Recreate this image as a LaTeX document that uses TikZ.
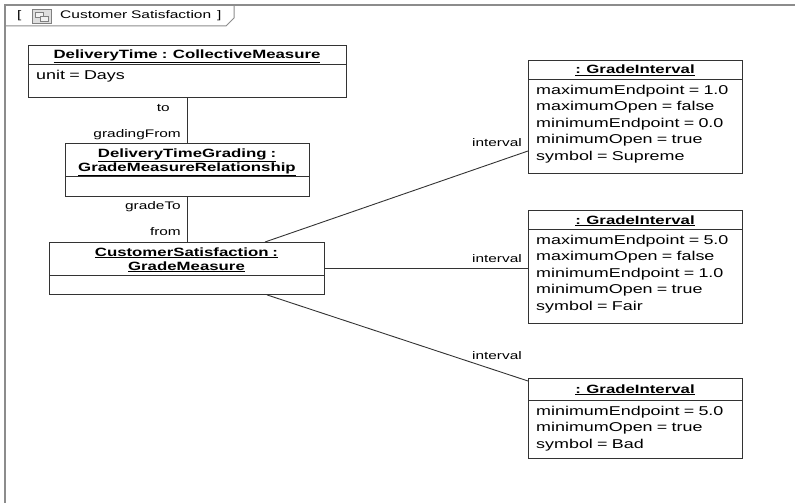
\documentclass[tikz,border=0pt]{standalone}
\usepackage{fontspec}
\setmainfont{Liberation Sans}
\newfontfamily\uml[FakeStretch=1.4,WordSpace=0.85]{Liberation Sans}
\usetikzlibrary{calc}
\definecolor{framegray}{HTML}{8C8C8C}
\definecolor{linec}{HTML}{333333}
\begin{document}
\begin{tikzpicture}[x=1pt,y=-1pt,
  box/.style={draw=linec, line width=0.9pt, fill=white, inner sep=0, anchor=north west},
  sep/.style={draw=linec, line width=0.9pt},
  ttl/.style={font=\uml\bfseries\fontsize{12}{14}\selectfont, inner sep=0, anchor=base},
  attr/.style={font=\uml\fontsize{12.8}{16}\selectfont, inner sep=0, anchor=base west},
  lbl/.style={font=\uml\fontsize{11}{13}\selectfont, inner sep=0, anchor=base east},
  tabtxt/.style={font=\uml\fontsize{11}{13}\selectfont, inner sep=0, anchor=base west},
  conn/.style={draw=linec, line width=0.9pt}]
\useasboundingbox (0,0) rectangle (795,503);
% frame
\draw[framegray, line width=1.4pt] (5,503) -- (5,5) -- (795,5);
\draw[framegray, line width=1pt] (5,26) -- (226,26) -- (234,18) -- (234,5);
\node[tabtxt] (tabl) at (17,19) {[};
\node[draw=gray, fill=gray!25, minimum width=19pt, minimum height=14pt, inner sep=0, anchor=north west] (icon) at (32,9) {};
\draw[gray, fill=gray!10] ($(icon.north west)+(3,3)$) rectangle ++(8,5);
\draw[gray, fill=gray!10] ($(icon.north west)+(8,7)$) rectangle ++(8,5);
\node[tabtxt] (tabt) at (60,19) {\resizebox{151pt}{\height}{Customer Satisfaction}};
\node[tabtxt] (tabr) at (217,19) {]};

% DeliveryTime
\node[box, minimum width=318pt, minimum height=52pt] (dt) at (28,45) {};
\draw[sep] (28,64) -- (346,64);
\node[ttl] (dtt) at (187,58.5) {\underline{DeliveryTime : CollectiveMeasure}};
\node[attr] (dta) at (36,79.5) {unit = Days};

% DeliveryTimeGrading
\node[box, minimum width=244pt, minimum height=53pt] (dtg) at (65,143) {};
\draw[sep] (65,176) -- (309,176);
\node[ttl] (dtgt1) at (187,157) {\underline{DeliveryTimeGrading :}};
\node[ttl] (dtgt2) at (187,171) {\underline{GradeMeasureRelationship}};

% CustomerSatisfaction
\node[box, minimum width=275pt, minimum height=52pt] (cs) at (49,242) {};
\draw[sep] (49,275) -- (324,275);
\node[ttl] (cst1) at (186.5,256) {\underline{CustomerSatisfaction :}};
\node[ttl] (cst2) at (186.5,270) {\underline{GradeMeasure}};

% GradeInterval 1
\node[box, minimum width=214pt, minimum height=113pt] (gi1) at (528,60) {};
\draw[sep] (528,79) -- (742,79);
\node[ttl] (gi1t) at (635,74) {\underline{: GradeInterval}};
\node[attr] (gi1a) at (536,94) {maximumEndpoint = 1.0};
\node[attr] (gi1b) at (536,110.6) {maximumOpen = false};
\node[attr] (gi1c) at (536,127.2) {minimumEndpoint = 0.0};
\node[attr] (gi1d) at (536,143.8) {minimumOpen = true};
\node[attr] (gi1e) at (536,160.4) {symbol = Supreme};

% GradeInterval 2
\node[box, minimum width=214pt, minimum height=113pt] (gi2) at (528,210) {};
\draw[sep] (528,229) -- (742,229);
\node[ttl] (gi2t) at (635,224) {\underline{: GradeInterval}};
\node[attr] (gi2a) at (536,244) {maximumEndpoint = 5.0};
\node[attr] (gi2b) at (536,260.6) {maximumOpen = false};
\node[attr] (gi2c) at (536,277.2) {minimumEndpoint = 1.0};
\node[attr] (gi2d) at (536,293.8) {minimumOpen = true};
\node[attr] (gi2e) at (536,310.4) {symbol = Fair};

% GradeInterval 3
\node[box, minimum width=214pt, minimum height=80pt] (gi3) at (528,378) {};
\draw[sep] (528,400) -- (742,400);
\node[ttl] (gi3t) at (635,393) {\underline{: GradeInterval}};
\node[attr] (gi3a) at (536,415) {minimumEndpoint = 5.0};
\node[attr] (gi3b) at (536,431.6) {minimumOpen = true};
\node[attr] (gi3c) at (536,448.2) {symbol = Bad};

% connectors
\draw[conn] (dt.south) -- (dt.south |- dtg.north);
\draw[conn] (dtg.south) -- (dtg.south |- cs.north);
\draw[conn] ($(cs.north west)+(216,0)$) -- ($(gi1.north west)+(0,91)$);
\draw[conn] (cs.east) -- (cs.east -| gi2.west);
\draw[conn] ($(cs.south west)+(218,0)$) -- ($(gi3.north west)+(0,3)$);

% labels
\node[lbl] (l1) at (170,111) {to};
\node[lbl] (l2) at (181,137) {gradingFrom};
\node[lbl] (l3) at (181,209) {gradeTo};
\node[lbl] (l4) at (181,235) {from};
\node[lbl] (l5) at (522,146) {interval};
\node[lbl] (l6) at (522,262) {interval};
\node[lbl] (l7) at (522,359) {interval};
\end{tikzpicture}
\end{document}
